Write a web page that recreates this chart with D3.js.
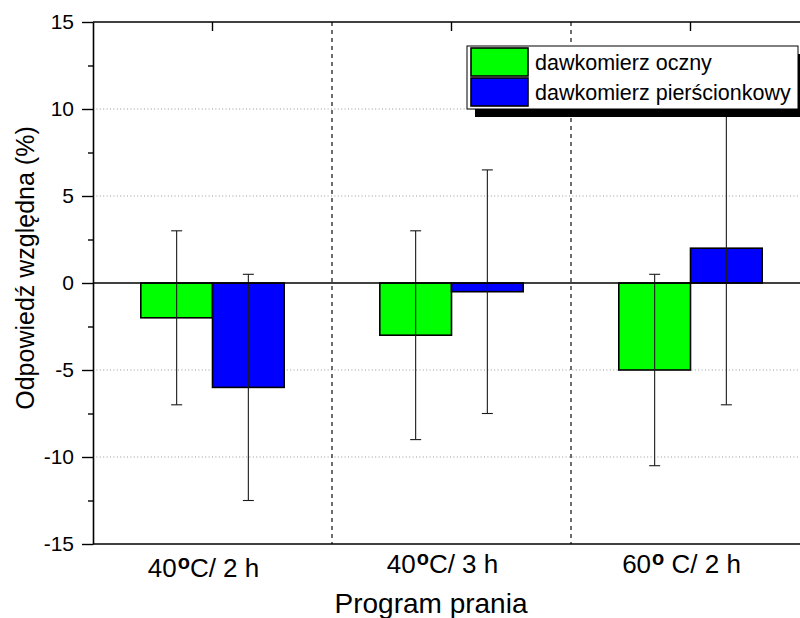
<!DOCTYPE html>
<html>
<head>
<meta charset="utf-8">
<script src="https://cdn.jsdelivr.net/npm/d3@7"></script>
<style>
  html, body { margin: 0; padding: 0; background: #fff; }
  svg { display: block; font-family: "Liberation Sans", Arial, sans-serif; }
</style>
</head>
<body>
<svg id="chart" width="800" height="618"></svg>
<script>
// Washing programmes (x categories) and the two dosimeter series
const categories = ["40°C/ 2 h", "40°C/ 3 h", "60° C/ 2 h"];
const series = ["dawkomierz oczny", "dawkomierz pierścionkowy"];
const ocznyValues = [-2, -3, -5];
const ocznyErrors = [5, 6, 5.5];
const pierscionkowyValues = [-6, -0.5, 2];
const pierscionkowyErrors = [6.5, 7, 9];
const seriesColors = ["#00ff00", "#0000ff"];
const yMajorTicks = [-15, -10, -5, 0, 5, 10, 15];
const yMinorTicks = [-12.5, -7.5, -2.5, 2.5, 7.5, 12.5];
const yGridValues = [-10, -5, 5, 10];

const rows = categories.map((c, i) => ({
  category: c,
  bars: [
    { s: series[0], v: ocznyValues[i], e: ocznyErrors[i] },
    { s: series[1], v: pierscionkowyValues[i], e: pierscionkowyErrors[i] }
  ]
}));

const svg = d3.select("#chart");
const plotLeft = 93, plotRight = 810, plotTop = 22, plotBottom = 544;

const x = d3.scaleBand().domain(categories).range([plotLeft, plotRight]).padding(0);
const bw = x.bandwidth();
const x1 = d3.scaleBand().domain(series).range([bw * 0.2, bw * 0.8]).padding(0);
const y = d3.scaleLinear().domain([-15, 15]).range([plotBottom, plotTop]);
const color = d3.scaleOrdinal().domain(series).range(seriesColors);

// dotted horizontal grid
svg.append("g").selectAll("line").data(yGridValues).join("line")
  .attr("x1", plotLeft).attr("x2", plotRight)
  .attr("y1", d => y(d)).attr("y2", d => y(d))
  .attr("stroke", "#999").attr("stroke-width", 1)
  .attr("stroke-dasharray", "1,2.4");

// dashed separators between programmes
svg.append("g").selectAll("line").data(categories.slice(1)).join("line")
  .attr("x1", d => x(d)).attr("x2", d => x(d))
  .attr("y1", plotTop).attr("y2", plotBottom)
  .attr("stroke", "#222").attr("stroke-width", 1.3)
  .attr("stroke-dasharray", "4,4");

// bars
const groups = svg.append("g").selectAll("g").data(rows).join("g")
  .attr("transform", d => `translate(${x(d.category)},0)`);

groups.selectAll("rect").data(d => d.bars).join("rect")
  .attr("x", d => x1(d.s))
  .attr("width", x1.bandwidth())
  .attr("y", d => Math.min(y(0), y(d.v)))
  .attr("height", d => Math.abs(y(d.v) - y(0)))
  .attr("fill", d => color(d.s))
  .attr("stroke", "#000").attr("stroke-width", 1.6);

// zero line
svg.append("line")
  .attr("x1", plotLeft).attr("x2", plotRight)
  .attr("y1", y(0)).attr("y2", y(0))
  .attr("stroke", "#000").attr("stroke-width", 1.6);

// error bars
const err = groups.selectAll("g.err").data(d => d.bars).join("g").attr("class", "err")
  .attr("transform", d => `translate(${x1(d.s) + x1.bandwidth() / 2},0)`);
err.append("line")
  .attr("x1", 0).attr("x2", 0)
  .attr("y1", d => y(d.v + d.e)).attr("y2", d => y(d.v - d.e))
  .attr("stroke", "#1a1a1a").attr("stroke-width", 1.1);
err.selectAll("line.cap").data(d => [d.v + d.e, d.v - d.e]).join("line").attr("class", "cap")
  .attr("x1", -5.5).attr("x2", 5.5)
  .attr("y1", d => y(d)).attr("y2", d => y(d))
  .attr("stroke", "#1a1a1a").attr("stroke-width", 1.1);

// frame: top and bottom lines
svg.append("line").attr("x1", plotLeft).attr("x2", plotRight).attr("y1", plotTop).attr("y2", plotTop)
  .attr("stroke", "#000").attr("stroke-width", 1.6);
svg.append("line").attr("x1", plotLeft).attr("x2", plotRight).attr("y1", plotBottom).attr("y2", plotBottom)
  .attr("stroke", "#000").attr("stroke-width", 1.6);

// top ticks at category centres, pointing inward
const xTop = d3.axisTop(x).tickSizeInner(-9).tickSizeOuter(0).tickFormat("");
const gTop = svg.append("g").attr("transform", `translate(0,${plotTop})`).call(xTop);
gTop.select(".domain").remove();
gTop.selectAll(".tick line").attr("stroke", "#000").attr("stroke-width", 1.4);

// left axis with major and minor ticks
const yAxis = d3.axisLeft(y).tickValues(yMajorTicks).tickFormat(d => String(d))
  .tickSizeInner(11).tickSizeOuter(0).tickPadding(8);
const gy = svg.append("g").attr("transform", `translate(${plotLeft},0)`).call(yAxis);
gy.select(".domain").attr("stroke", "#000").attr("stroke-width", 1.6);
gy.selectAll(".tick line").attr("stroke", "#000").attr("stroke-width", 1.4);
gy.selectAll(".tick text").attr("font-size", 21).attr("fill", "#000")
  .attr("font-family", "'Liberation Sans', Arial, sans-serif");
const yMinor = d3.axisLeft(y).tickValues(yMinorTicks).tickSize(5).tickFormat("");
const gym = svg.append("g").attr("transform", `translate(${plotLeft},0)`).call(yMinor);
gym.select(".domain").remove();
gym.selectAll(".tick line").attr("stroke", "#000").attr("stroke-width", 1.4);

// category labels with superscript degree mark
const xl = svg.append("g").selectAll("text").data(categories).join("text")
  .attr("x", d => x(d) + bw / 2 - 9)
  .attr("y", (d, i) => i === 0 ? 577 : 573)
  .attr("text-anchor", "middle")
  .attr("font-size", 26)
  .attr("fill", "#000");
xl.append("tspan").text(d => d.split("°")[0]);
xl.append("tspan").text("o").attr("font-size", 20).attr("dx", 1).attr("dy", -8).attr("font-weight", "bold");
xl.append("tspan").text(d => d.split("°")[1]).attr("dy", 8);

// axis titles
svg.append("text")
  .attr("x", 431).attr("y", 613)
  .attr("text-anchor", "middle").attr("font-size", 28).attr("fill", "#000")
  .text("Program prania");
svg.append("text")
  .attr("transform", "translate(34,268) rotate(-90)")
  .attr("text-anchor", "middle").attr("font-size", 25).attr("fill", "#000")
  .text("Odpowiedź względna (%)");

// legend with drop shadow
const lg = svg.append("g");
lg.append("rect").attr("x", 475).attr("y", 54).attr("width", 331).attr("height", 63).attr("fill", "#000");
lg.append("rect").attr("x", 467).attr("y", 46).attr("width", 331).attr("height", 63)
  .attr("fill", "#fff").attr("stroke", "#000").attr("stroke-width", 1);
const li = lg.selectAll("g.item").data(series).join("g").attr("class", "item")
  .attr("transform", (d, i) => `translate(471,${48 + i * 30})`);
li.append("rect").attr("width", 57).attr("height", 28)
  .attr("fill", d => color(d)).attr("stroke", "#000").attr("stroke-width", 1.6);
li.append("text").attr("x", 64).attr("y", 21.5).attr("font-size", 21.5).attr("fill", "#000").text(d => d);
</script>
</body>
</html>
